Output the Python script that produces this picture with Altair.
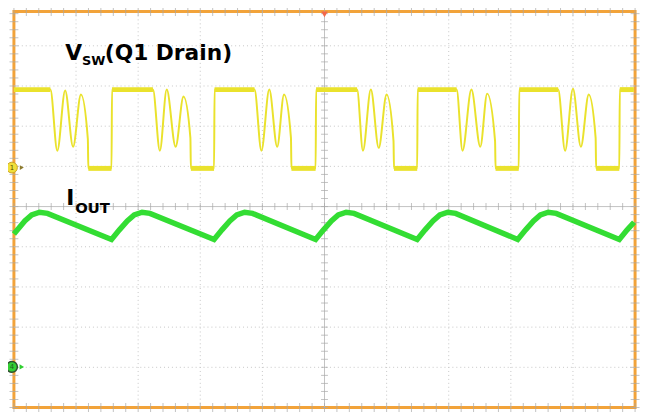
import altair as alt
import pandas as pd

# ---------------- data (screen divisions) ----------------
# Channel 1: V_SW (Q1 drain) trace, time in divisions, level in divisions
vsw_t = [0.000, 0.587, 0.698, 0.825, 0.952, 1.079, 1.190, 1.198, 1.571, 1.579,
         2.238, 2.349, 2.460, 2.603, 2.730, 2.841, 2.849, 3.222, 3.230,
         3.873, 3.984, 4.111, 4.238, 4.349, 4.460, 4.468, 4.857, 4.865,
         5.524, 5.619, 5.746, 5.873, 6.000, 6.111, 6.119, 6.492, 6.500,
         7.127, 7.222, 7.365, 7.508, 7.619, 7.746, 7.754, 8.127, 8.135,
         8.762, 8.873, 9.000, 9.127, 9.254, 9.365, 9.373, 9.746, 9.754,
         9.980]
vsw_v = [2.91, 2.91, 1.39, 2.89, 1.49, 2.79, 1.68, 0.95, 0.95, 2.91,
         2.91, 1.39, 2.91, 1.49, 2.74, 1.71, 0.95, 0.95, 2.91,
         2.91, 1.39, 2.91, 1.49, 2.79, 1.71, 0.95, 0.95, 2.91,
         2.91, 1.39, 2.91, 1.46, 2.79, 1.63, 0.95, 0.95, 2.91,
         2.91, 1.39, 2.91, 1.49, 2.81, 1.63, 0.95, 0.95, 2.91,
         2.91, 1.39, 2.93, 1.49, 2.79, 1.71, 0.95, 0.95, 2.91,
         2.91]

# plateaus of the switching node (noisy bands)
vsw_high_start = [0.000, 1.579, 3.230, 4.865, 6.500, 8.135, 9.754]
vsw_high_end = [0.587, 2.238, 3.873, 5.524, 7.127, 8.762, 9.980]
vsw_low_start = [1.198, 2.849, 4.468, 6.119, 7.754, 9.373]
vsw_low_end = [1.571, 3.222, 4.857, 6.492, 8.127, 9.746]
VSW_HIGH = 2.91
VSW_LOW = 0.95

# Channel 4: I_OUT trace
iout_t = [0.000, 0.175, 0.286, 0.413, 0.540,
          1.571, 1.698, 1.825, 1.937, 2.063, 2.190,
          3.222, 3.349, 3.476, 3.587, 3.714, 3.841,
          4.857, 4.984, 5.111, 5.222, 5.349, 5.476,
          6.492, 6.619, 6.746, 6.857, 6.984, 7.111,
          8.111, 8.238, 8.365, 8.476, 8.603, 8.730,
          9.746, 9.873, 9.984]
iout_v = [-0.68, -0.36, -0.21, -0.14, -0.17,
          -0.82, -0.58, -0.36, -0.21, -0.14, -0.17,
          -0.82, -0.58, -0.36, -0.21, -0.14, -0.17,
          -0.82, -0.58, -0.36, -0.21, -0.14, -0.17,
          -0.82, -0.58, -0.36, -0.21, -0.14, -0.17,
          -0.82, -0.58, -0.36, -0.21, -0.14, -0.17,
          -0.82, -0.58, -0.39]

CH1_GROUND = 0.97
CH4_GROUND = -3.99
TRIGGER_T = 5.0

# screen graticule
grid_x = [1, 2, 3, 4, 6, 7, 8, 9]
grid_y = [-4, -3, -2, -1, 1, 2, 3, 4]
X_MIN, X_MAX = 0.0, 10.0
Y_MIN, Y_TOP = -5.0, 4.853
minor_x = [i / 5 for i in range(0, 51)]
minor_y = [-5 + i / 5 for i in range(0, 50)]

# ---------------- styles ----------------
YELLOW = "#EAE22C"
GREEN = "#33DD33"
ORANGE = "#F2A33A"
GRID = "#C6C6C6"
TICK = "#A8A8A8"

xs = alt.Scale(domain=[X_MIN, X_MAX], nice=False, zero=False)
ys = alt.Scale(domain=[Y_MIN, Y_TOP], nice=False, zero=False)


def X(f):
    return alt.X(f, type="quantitative", scale=xs, axis=None)


def Y(f):
    return alt.Y(f, type="quantitative", scale=ys, axis=None)


grid_v = alt.Chart(pd.DataFrame({"x": grid_x})).mark_rule(
    color=GRID, strokeDash=[1, 3], strokeWidth=1).encode(x=X("x"))
grid_h = alt.Chart(pd.DataFrame({"y": grid_y})).mark_rule(
    color=GRID, strokeDash=[1, 3], strokeWidth=1).encode(y=Y("y"))
center_v = alt.Chart(pd.DataFrame({"x": [5.0]})).mark_rule(
    color="#C2C2C2", strokeWidth=1).encode(x=X("x"))
center_h = alt.Chart(pd.DataFrame({"y": [0.0]})).mark_rule(
    color="#C2C2C2", strokeWidth=1).encode(y=Y("y"))

df_tx = pd.DataFrame({"x": minor_x})
df_ty = pd.DataFrame({"y": minor_y})
tick_bottom = alt.Chart(df_tx).mark_tick(orient="vertical", size=9, thickness=1, color=TICK).encode(
    x=X("x"), y=alt.Y(datum=Y_MIN, scale=ys, axis=None))
tick_top = alt.Chart(df_tx).mark_tick(orient="vertical", size=9, thickness=1, color=TICK).encode(
    x=X("x"), y=alt.Y(datum=Y_TOP, scale=ys, axis=None))
tick_cx = alt.Chart(df_tx).mark_tick(orient="vertical", size=7, thickness=1, color=TICK).encode(
    x=X("x"), y=alt.Y(datum=0.0, scale=ys, axis=None))
tick_left = alt.Chart(df_ty).mark_tick(orient="horizontal", size=9, thickness=1, color=TICK).encode(
    y=Y("y"), x=alt.X(datum=X_MIN, scale=xs, axis=None))
tick_right = alt.Chart(df_ty).mark_tick(orient="horizontal", size=9, thickness=1, color=TICK).encode(
    y=Y("y"), x=alt.X(datum=X_MAX, scale=xs, axis=None))
tick_cy = alt.Chart(df_ty).mark_tick(orient="horizontal", size=7, thickness=1, color=TICK).encode(
    y=Y("y"), x=alt.X(datum=5.0, scale=xs, axis=None))

df_vsw = pd.DataFrame({"t": vsw_t, "v": vsw_v, "i": range(len(vsw_t))})
df_iout = pd.DataFrame({"t": iout_t, "v": iout_v, "i": range(len(iout_t))})

vsw_line = alt.Chart(df_vsw).mark_line(color=YELLOW, strokeWidth=2, interpolate="monotone").encode(
    x=X("t"), y=Y("v"), order="i:Q")
df_hi = pd.DataFrame({"s": vsw_high_start, "e": vsw_high_end, "lvl": [VSW_HIGH] * len(vsw_high_start)})
df_lo = pd.DataFrame({"s": vsw_low_start, "e": vsw_low_end, "lvl": [VSW_LOW] * len(vsw_low_start)})
vsw_hi = alt.Chart(df_hi).mark_rule(color=YELLOW, strokeWidth=5).encode(x=X("s"), x2="e", y=Y("lvl"))
vsw_lo = alt.Chart(df_lo).mark_rule(color=YELLOW, strokeWidth=5).encode(x=X("s"), x2="e", y=Y("lvl"))

iout_line = alt.Chart(df_iout).mark_line(color=GREEN, strokeWidth=5.5, interpolate="linear").encode(
    x=X("t"), y=Y("v"), order="i:Q")

# channel markers
df_c1 = pd.DataFrame({"x": [X_MIN], "y": [CH1_GROUND], "n": ["1"]})
df_c4 = pd.DataFrame({"x": [X_MIN], "y": [CH4_GROUND], "n": ["4"]})
c1_arrow = alt.Chart(df_c1).mark_point(shape="triangle-right", filled=True, color="#8C7A2E",
                                       size=22, opacity=1, xOffset=8).encode(x=X("x"), y=Y("y"))
c1_dot = alt.Chart(df_c1).mark_point(shape="circle", filled=True, color="#F0DF3A", stroke="#C9A227",
                                     strokeWidth=1, size=120, opacity=1, xOffset=-2).encode(x=X("x"), y=Y("y"))
c1_txt = alt.Chart(df_c1).mark_text(fontSize=7, color="#5A4A00", font="DejaVu Sans", dx=-2, dy=0.5).encode(
    x=X("x"), y=Y("y"), text="n:N")
c4_arrow = alt.Chart(df_c4).mark_point(shape="triangle-right", filled=True, color="#2FCF2F",
                                       size=28, opacity=1, xOffset=8).encode(x=X("x"), y=Y("y"))
c4_dot = alt.Chart(df_c4).mark_point(shape="circle", filled=True, color="#34D034", stroke="#2F4F2F",
                                     strokeWidth=1.5, size=120, opacity=1, xOffset=-2).encode(x=X("x"), y=Y("y"))
c4_txt = alt.Chart(df_c4).mark_text(fontSize=7, color="#1F5F1F", font="DejaVu Sans", dx=-2, dy=0.5).encode(
    x=X("x"), y=Y("y"), text="n:N")

trig = alt.Chart(pd.DataFrame({"x": [TRIGGER_T], "y": [Y_TOP]})).mark_point(
    shape="triangle-down", filled=True, color="#F2684A", size=45, opacity=1, yOffset=3).encode(
    x=X("x"), y=Y("y"))

# labels
def label(txt, px, py, size):
    return alt.Chart(pd.DataFrame({"s": [txt]})).mark_text(
        font="DejaVu Sans", fontWeight="bold", fontSize=size, color="black",
        align="left", baseline="alphabetic").encode(
        x=alt.value(px), y=alt.value(py), text="s:N")


lab_v = label("V", 52, 49, 22)
lab_sw = label("SW", 69, 54, 13)
lab_q = label("(Q1 Drain)", 92, 49, 22)
lab_i = label("I", 53, 196, 22)
lab_out = label("OUT", 62, 204, 15)

chart = alt.layer(
    grid_v, grid_h, center_v, center_h,
    tick_bottom, tick_top, tick_left, tick_right, tick_cx, tick_cy,
    vsw_hi, vsw_lo, vsw_line, iout_line,
    lab_v, lab_sw, lab_q, lab_i, lab_out,
    c1_arrow, c1_dot, c1_txt, c4_arrow, c4_dot, c4_txt, trig,
).properties(
    width=629, height=401,
    padding={"left": 6, "top": 1, "right": 6, "bottom": 4},
    autosize=alt.AutoSizeParams(type="none"),
    background="white",
).configure_view(stroke=ORANGE, strokeWidth=3, fill="white")

chart.save("out.html", embed_options={"renderer": "svg", "actions": False})
